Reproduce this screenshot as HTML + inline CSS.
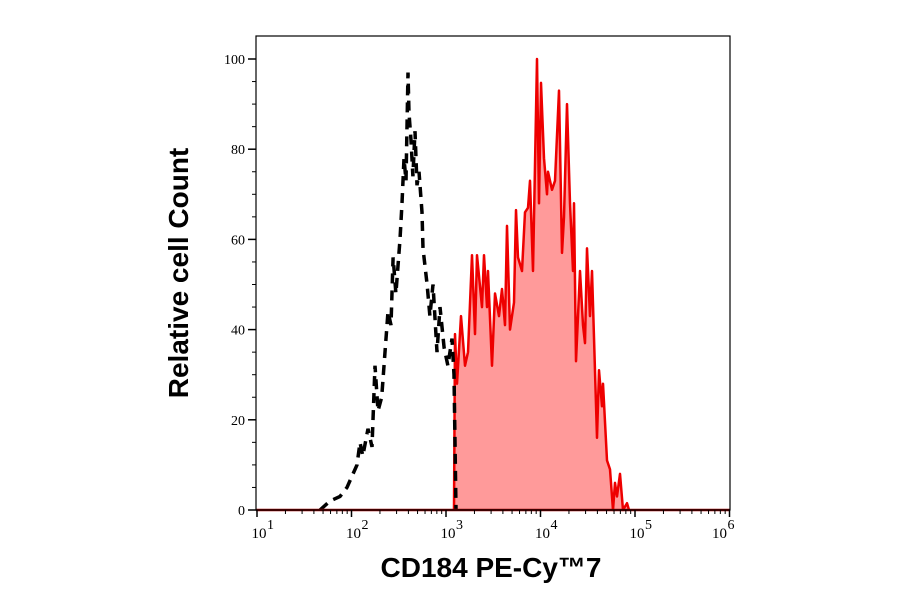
<!DOCTYPE html>
<html><head><meta charset="utf-8"><style>
html,body{margin:0;padding:0;background:#fff;width:900px;height:594px;overflow:hidden}
svg{display:block}
</style></head><body>
<svg id="chart" width="900" height="594" xmlns="http://www.w3.org/2000/svg">
</svg>
<script>
// log10 fluorescence positions and relative counts
const isoLog = [1.667,1.772,1.878,1.952,2.016,2.058,2.09,2.12,2.175,2.217,2.249,2.28,2.32,2.354,2.386,2.418,2.44,2.47,2.513,2.534,2.556,2.577,2.598,2.608,2.63,2.65,2.672,2.693,2.714,2.746,2.757,2.8,2.83,2.862,2.905,2.937,2.98,3.02,3.063,3.085,3.106];
const isoCount = [0,2,3,5,8,10,15,12,18,14,32,22,25,35,44,41,56,48,60,68,78,73,97,88,82,74,84,72,75,66,58,50,43,50,35,45,36,32,38,30,0];
const stainLog = [3.085,3.095,3.116,3.159,3.201,3.233,3.275,3.307,3.328,3.381,3.402,3.434,3.444,3.487,3.519,3.561,3.593,3.624,3.646,3.677,3.720,3.741,3.762,3.804,3.836,3.868,3.889,3.921,3.963,3.984,4.005,4.037,4.069,4.079,4.122,4.153,4.196,4.228,4.249,4.280,4.312,4.344,4.354,4.376,4.418,4.450,4.471,4.492,4.524,4.545,4.598,4.619,4.651,4.661,4.704,4.735,4.767,4.788,4.810,4.841,4.873,4.915,4.937];
const stainCount = [0,39,28,43,32,35,56.5,39,56.5,45,56.5,45,53,32,48,43,49,41,63,40,46,66.5,56,53,66,67,73,53,100,68,94.7,78,70,75,71,73,93,57,65,90,68,53,68,33,53,41,37,58,43,53,16,31,23,28,11,9,0,6,3,8,0,1.5,0];
const yTicks = [0,20,40,60,80,100];
const xDecades = [1,2,3,4,5,6];

const L=256,R=730,T=36,B=510;
const xs = v => 257 + (v-1)*94.5;
const ys = v => 510 - v*4.51;
const svg=document.getElementById('chart');
const NS='http://www.w3.org/2000/svg';
function mk(tag,attrs,parent){const e=document.createElementNS(NS,tag);for(const k in attrs)e.setAttribute(k,attrs[k]);(parent||svg).appendChild(e);return e;}

let d='M'+xs(stainLog[0])+','+ys(0);
stainLog.forEach((v,i)=>{d+=' L'+xs(v).toFixed(1)+','+ys(stainCount[i]).toFixed(1);});
d+=' L'+xs(stainLog[stainLog.length-1])+','+ys(0)+' Z';
const fill=mk('path',{d:d,fill:'#ff9a9a',stroke:'none'});


let dl='';
stainLog.forEach((v,i)=>{dl+=(i?' L':'M')+xs(v).toFixed(1)+','+ys(stainCount[i]).toFixed(1);});
const sl=mk('path',{d:dl,fill:'none',stroke:'#ee0000','stroke-width':2.5,'stroke-linejoin':'round'});



let di='';
isoLog.forEach((v,i)=>{di+=(i?' L':'M')+xs(v).toFixed(1)+','+ys(isoCount[i]).toFixed(1);});
const il=mk('path',{d:di,fill:'none',stroke:'#000','stroke-width':3.5,'stroke-dasharray':'10,7'});



const bl=mk('line',{x1:L,y1:B,x2:R,y2:B,stroke:'#a00000','stroke-width':2.5});



const fr=mk('rect',{x:L,y:T,width:R-L,height:B-T,fill:'none',stroke:'#000','stroke-width':1.2});



for(let v=0;v<=100;v+=5){
  const major=v%20===0;
  const t=mk('line',{x1:L-(major?8:4),y1:ys(v),x2:L,y2:ys(v),stroke:'#000','stroke-width':major?1.5:1});
  
  
}
yTicks.forEach(v=>{
  const t=mk('text',{x:L-11,y:ys(v)+5,'text-anchor':'end','font-family':'Liberation Serif, serif','font-size':14});
  t.textContent=v;
  
  
});
xDecades.forEach((dcd,i)=>{
  const t=mk('line',{x1:xs(dcd),y1:B,x2:xs(dcd),y2:B+7,stroke:'#000','stroke-width':1.5});
  
  
  if(i<xDecades.length-1){
    for(let m=2;m<10;m++){
      const mt=mk('line',{x1:xs(dcd+Math.log10(m)),y1:B,x2:xs(dcd+Math.log10(m)),y2:B+4,stroke:'#000','stroke-width':1});
      
      
    }
  }
  const lx=i===xDecades.length-1?xs(dcd)-10:xs(dcd)+2;
  const lb=mk('text',{x:lx,y:B+28,'text-anchor':'middle','font-family':'Liberation Serif, serif','font-size':15});
  lb.textContent='10';
  
  
  const sp=mk('text',{x:lx+8,y:B+19,'font-family':'Liberation Serif, serif','font-size':14});
  sp.textContent=dcd;
  
  
});
const yt=mk('text',{x:0,y:0,transform:'translate(188,273) rotate(-90)','text-anchor':'middle','font-family':'Liberation Sans, sans-serif','font-size':28,'font-weight':'bold'});
yt.textContent='Relative cell Count';


const xt=mk('text',{x:491,y:577,'text-anchor':'middle','font-family':'Liberation Sans, sans-serif','font-size':28,'font-weight':'bold'});
xt.textContent='CD184 PE-Cy™7';


</script>
</body></html>
